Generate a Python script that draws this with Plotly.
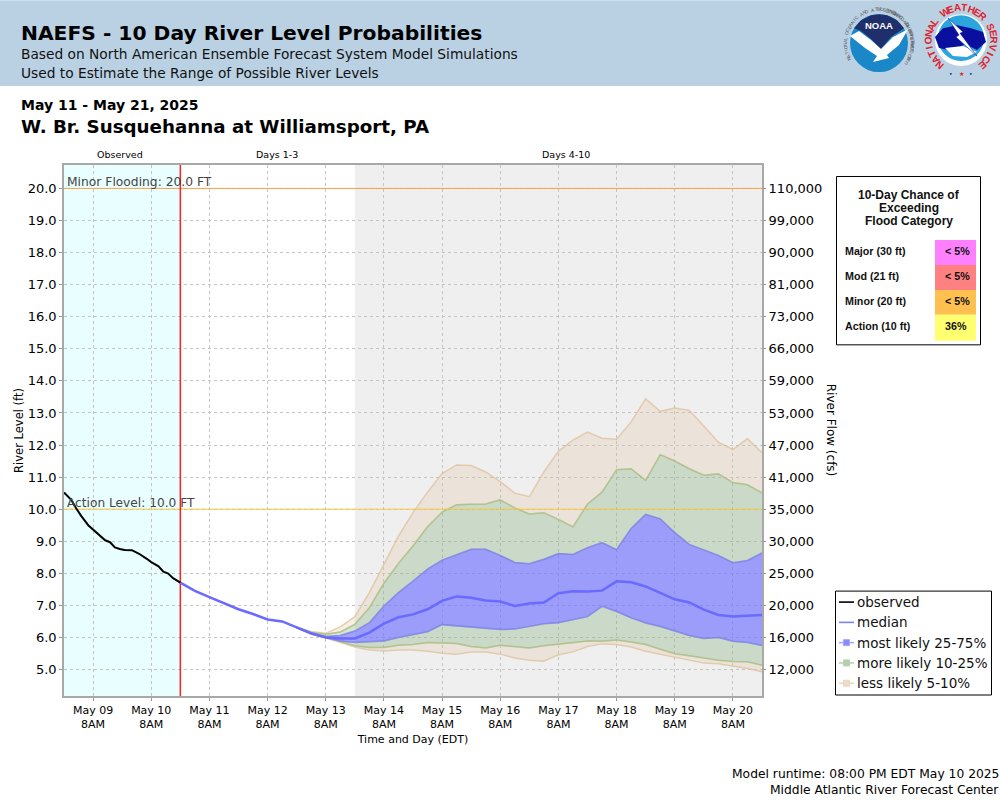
import math
import pandas as pd
import plotly.graph_objects as go

# ---------- data ----------
START = pd.Timestamp("2025-05-08 20:00")
END = pd.Timestamp("2025-05-20 20:00")
FORECAST_START = pd.Timestamp("2025-05-10 20:00")
DAY4_START = pd.Timestamp("2025-05-13 20:00")

obs_hours = [0, 3, 5, 7, 10, 13, 16, 17, 19, 21, 23, 25, 28, 31, 34, 36, 39, 41, 43, 45, 48]
obs_stage = [10.52, 10.29, 10.03, 9.80, 9.50, 9.29, 9.10, 9.03, 8.97, 8.81, 8.76, 8.73, 8.72,
             8.61, 8.46, 8.35, 8.22, 8.05, 7.99, 7.85, 7.71]

median = [7.71, 7.45, 7.26, 7.06, 6.88, 6.73, 6.56, 6.50, 6.31, 6.13, 6.00, 5.97, 5.97, 6.15, 6.43,
          6.63, 6.72, 6.88, 7.14, 7.28, 7.24, 7.15, 7.12, 6.98, 7.06, 7.09, 7.38, 7.44, 7.43, 7.46,
          7.75, 7.72, 7.59, 7.40, 7.19, 7.09, 6.87, 6.70, 6.65, 6.68, 6.70]
# bands begin at forecast step 8
band_first_step = 8
p95 = [6.33, 6.19, 6.13, 6.33, 6.65, 7.40, 8.28, 9.16, 9.89, 10.53, 11.11, 11.38, 11.36, 11.16, 10.86,
       10.50, 10.39, 11.16, 11.81, 12.15, 12.40, 12.21, 12.18, 12.72, 13.44, 13.05, 13.15, 13.08,
       12.59, 12.09, 11.86, 12.20, 11.76]
p90 = [6.32, 6.16, 6.10, 6.17, 6.41, 6.93, 7.69, 8.31, 8.85, 9.45, 9.91, 10.14, 10.15, 10.16, 10.29,
       10.04, 9.85, 9.89, 9.68, 9.45, 10.16, 10.53, 11.23, 11.26, 10.90, 11.70, 11.50, 11.26,
       11.06, 11.10, 10.83, 10.76, 10.51]
p75 = [6.31, 6.14, 6.03, 6.06, 6.20, 6.46, 6.98, 7.40, 7.76, 8.13, 8.41, 8.59, 8.75, 8.75, 8.56,
       8.34, 8.30, 8.44, 8.62, 8.59, 8.80, 8.96, 8.74, 9.40, 9.84, 9.70, 9.27, 8.90,
       8.72, 8.56, 8.33, 8.40, 8.64]
p25 = [6.31, 6.12, 6.00, 5.89, 5.84, 5.86, 5.89, 6.00, 6.10, 6.18, 6.40, 6.36, 6.34, 6.30, 6.25,
       6.26, 6.34, 6.43, 6.46, 6.56, 6.65, 6.97, 6.81, 6.61, 6.45, 6.34, 6.21, 6.06,
       5.97, 6.00, 5.88, 5.84, 5.75]
p10 = [6.30, 6.11, 5.99, 5.86, 5.74, 5.69, 5.69, 5.76, 5.78, 5.84, 5.82, 5.81, 5.72, 5.67, 5.76,
       5.72, 5.67, 5.74, 5.79, 5.82, 5.89, 5.88, 5.92, 5.86, 5.78, 5.63, 5.49, 5.43,
       5.36, 5.29, 5.25, 5.24, 5.13]
p05 = [6.30, 6.10, 5.99, 5.84, 5.70, 5.61, 5.58, 5.61, 5.61, 5.57, 5.51, 5.48, 5.55, 5.55, 5.48,
       5.36, 5.29, 5.26, 5.46, 5.55, 5.72, 5.80, 5.78, 5.70, 5.57, 5.48, 5.38, 5.29,
       5.20, 5.18, 5.11, 5.03, 4.93]

stage_ticks = [5, 6, 7, 8, 9, 10, 11, 12, 13, 14, 15, 16, 17, 18, 19, 20]
flow_labels = ["12,000", "16,000", "20,000", "25,000", "30,000", "35,000", "41,000", "47,000",
               "53,000", "59,000", "66,000", "73,000", "81,000", "90,000", "99,000", "110,000"]
tick_days = ["May 09", "May 10", "May 11", "May 12", "May 13", "May 14", "May 15", "May 16",
             "May 17", "May 18", "May 19", "May 20"]
chance_rows = ["Major (30 ft)", "Mod (21 ft)", "Minor (20 ft)", "Action (10 ft)"]
chance_vals = ["< 5%", "< 5%", "< 5%", "36%"]
legend_names = ["observed", "median", "most likely 25-75%", "more likely 10-25%", "less likely 5-10%"]

# ---------- derived time axes ----------
obs_x = [START + pd.Timedelta(hours=h) for h in obs_hours]
fc_x = [FORECAST_START + pd.Timedelta(hours=6 * i) for i in range(len(median))]
band_x = fc_x[band_first_step:]
tick_x = [pd.Timestamp(f"2025-05-{d[-2:]} 08:00") for d in tick_days]
tick_text = [f"{d}<br>8AM" for d in tick_days]

# ---------- geometry helpers (figure pixels -> paper) ----------
W, H = 1000, 800
L, R, T, B = 64, 762, 165, 696.5
YMIN, YMAX = 4.175, 20.73
def px(x): return (x - L) / (R - L)
def py(y): return 1 - (y - T) / (B - T)

FONT = "DejaVu Sans"
ARIAL = "Liberation Sans"
CLEAR = "rgba(0,0,0,0)"
shapes, notes = [], []

def rect(x0, y0, x1, y1, fill, line=None, lw=1, layer="above"):
    shapes.append(dict(type="rect", xref="paper", yref="paper", x0=px(x0), x1=px(x1), y0=py(y0), y1=py(y1),
                       fillcolor=fill, line=dict(color=line or CLEAR, width=lw if line else 0), layer=layer))

def circle(cx, cy, r, fill, line=None, lw=1):
    shapes.append(dict(type="circle", xref="paper", yref="paper", x0=px(cx - r), x1=px(cx + r), y0=py(cy + r), y1=py(cy - r),
                       fillcolor=fill, line=dict(color=line or CLEAR, width=lw if line else 0), layer="above"))

def poly(points, fill, line=None, lw=1):
    d = "M " + " L ".join(f"{px(a):.5f},{py(b):.5f}" for a, b in points) + " Z"
    shapes.append(dict(type="path", xref="paper", yref="paper", path=d, fillcolor=fill,
                       line=dict(color=line or CLEAR, width=lw if line else 0), layer="above"))

def text(x, y, s, size, color="#000", anchor="left", family=FONT, bold=False, angle=0, vanchor="middle"):
    notes.append(dict(xref="paper", yref="paper", x=px(x), y=py(y), text=f"<b>{s}</b>" if bold else s,
                      showarrow=False, xanchor=anchor, yanchor=vanchor, textangle=angle,
                      font=dict(family=family, size=size, color=color), borderpad=0, borderwidth=0))

# banner
rect(0, 0, 1000, 86, "#BAD1E4", layer="below")
text(21, 33, "NAEFS - 10 Day River Level Probabilities", 20.25, bold=True)
text(21, 54, "Based on North American Ensemble Forecast System Model Simulations", 13.75, color="#111")
text(21, 73, "Used to Estimate the Range of Possible River Levels", 13.75, color="#111")
text(21, 105, "May 11 - May 21, 2025", 14, bold=True)
text(21, 126, "W. Br. Susquehanna at Williamsport, PA", 18.25, bold=True)

# NOAA logo
NX, NY = 879, 43
circle(NX, NY, 29, "#1A87C8")
poly([(NX - 25, NY - 15), (NX - 18, NY - 23), (NX - 8, NY - 28), (NX, NY - 29), (NX + 8, NY - 28), (NX + 18, NY - 23),
      (NX + 25, NY - 15), (NX + 12, NY - 6), (NX + 2, NY + 6), (NX - 8, NY - 4), (NX - 18, NY - 12)], "#1F2F6B")
poly([(NX - 29, NY - 7), (NX - 20, NY - 12), (NX - 8, NY - 3), (NX + 2, NY + 6), (NX + 14, NY - 6), (NX + 29, NY - 14),
      (NX + 20, NY + 2), (NX + 8, NY + 12), (NX + 10, NY + 15), (NX - 6, NY + 19), (NX - 2, NY + 13), (NX - 14, NY + 5)], "#FFFFFF")
text(NX, NY - 18, "NOAA", 9.5, color="#fff", anchor="center", family=ARIAL, bold=True)
ring = "NATIONAL OCEANIC AND ATMOSPHERIC ADMINISTRATION"
for i, ch in enumerate(ring):
    a = -118 + 236 * i / (len(ring) - 1)
    text(NX + 33.5 * math.sin(math.radians(a)), NY - 33.5 * math.cos(math.radians(a)), ch, 4.7,
         color="#555", anchor="center", family=ARIAL, angle=a)
ring2 = "U.S. DEPARTMENT OF COMMERCE"
for i, ch in enumerate(ring2):
    a = 125 - 110 * i / (len(ring2) - 1)
    text(NX + 33.5 * math.sin(math.radians(a)), NY - 33.5 * math.cos(math.radians(a)), ch, 4.7,
         color="#555", anchor="center", family=ARIAL, angle=a - 180)

# NWS logo
WX, WY = 961, 40
circle(WX, WY, 26, "#FFFFFF")
circle(WX, WY - 2, 23, "#2CA4DC")
poly([(WX - 26, WY - 3), (WX - 18, WY - 12), (WX - 4, WY - 15), (WX + 10, WY - 12), (WX + 22, WY - 8), (WX + 25, WY + 2),
      (WX + 16, WY + 10), (WX + 4, WY + 4), (WX - 8, WY + 11), (WX - 22, WY + 8)], "#0A0F9E")
poly([(WX - 16, WY + 8), (WX + 2, WY + 6), (WX + 16, WY + 12), (WX + 6, WY + 17), (WX - 8, WY + 16)], "#FFFFFF")
poly([(WX - 13, WY - 22), (WX + 2, WY - 8), (WX - 1, WY - 7), (WX + 16, WY + 16), (WX - 5, WY - 3), (WX - 2, WY - 5)], "#FFFFFF", "#0A0F9E", 0.5)
ring3 = "NATIONAL WEATHER SERVICE"
for i, ch in enumerate(ring3):
    a = -140 + 280 * i / (len(ring3) - 1)
    text(WX + 32.5 * math.sin(math.radians(a)), WY - 32.5 * math.cos(math.radians(a)), ch, 10,
         color="#E0202A", anchor="center", family=ARIAL, bold=True, angle=a)
for dx, c in [(-10, "#0A0F9E"), (0, "#E0202A"), (10, "#0A0F9E")]:
    text(WX + dx, WY + 33, "★" if c == "#E0202A" else "•", 6, color=c, anchor="center")

# period labels
for x, s in [(120, "Observed"), (276.5, "Days 1-3"), (566, "Days 4-10")]:
    text(x, 154, s, 9.5, anchor="center")

# level labels
text(67, 182, "Minor Flooding: 20.0 FT", 12.3, color="#444")
text(67, 503, "Action Level: 10.0 FT", 12.2, color="#444")

# right axis title
text(831, 431, "River Flow (cfs)", 12, anchor="center", angle=90)

# chance table
rect(836.5, 176.5, 980.5, 345, "#FFFFFF", "#000000", 1)
for i, s in enumerate(["10-Day Chance of", "Exceeding", "Flood Category"]):
    text(909, 195 + 13 * i, s, 12, anchor="center", family=ARIAL, bold=True, color="#111")
cell_cols = ["#FF80FF", "#FF8080", "#FFC050", "#FFFF70"]
for i, (nm, v, c) in enumerate(zip(chance_rows, chance_vals, cell_cols)):
    y0 = 240 + 25 * i
    rect(935, y0, 976, y0 + (26 if i == 3 else 25), c)
    text(845, y0 + 10.7, nm, 10.7, family=ARIAL, bold=True, color="#111")
    text(945, y0 + 10.7, v, 10.7, family=ARIAL, bold=True, color="#111")

# legend
rect(835.5, 591.5, 991.5, 695.5, "#FFFFFF", "#000000", 1)
leg_line = ["#000000", "#8080FF", "#A8A8FF", "#B9D3B0", "#EAD6C0"]
leg_box = [None, None, "#8A8AFB", "#B2CFA8", "#EBDCCB"]
for i, (nm, lc, bc) in enumerate(zip(legend_names, leg_line, leg_box)):
    y = 602.5 + 20.3 * i
    shapes.append(dict(type="line", xref="paper", yref="paper", x0=px(839), x1=px(854), y0=py(y), y1=py(y),
                       line=dict(color=lc, width=1.6), layer="above"))
    if bc:
        rect(843.5, y - 3, 849.5, y + 3, bc, lc, 1)
    text(857, y, nm, 13.5, color="#111")

# footer
text(999, 775, "Model runtime: 08:00 PM EDT May 10 2025", 12.3, anchor="right")
text(999, 791, "Middle Atlantic River Forecast Center", 12.3, anchor="right")

# data-space regions
def vrect(a, b, c):
    shapes.append(dict(type="rect", xref="x", yref="paper", x0=a, x1=b, y0=0, y1=1, fillcolor=c,
                       line=dict(width=0, color=CLEAR), layer="below"))
vrect(START, FORECAST_START, "#E9FFFF")
vrect(DAY4_START, END, "#EFEFEF")

fig = go.Figure()

def band(upper, lower, line, fill):
    fig.add_trace(go.Scatter(x=band_x, y=lower, mode="lines", line=dict(color=line, width=1.5), hoverinfo="skip", showlegend=False))
    fig.add_trace(go.Scatter(x=band_x, y=upper, mode="lines", line=dict(color=line, width=1.5), fill="tonexty", fillcolor=fill,
                             hoverinfo="skip", showlegend=False))

band(p95, p90, "rgba(222,190,150,0.7)", "rgba(222,190,150,0.25)")
band(p10, p05, "rgba(222,190,150,0.7)", "rgba(222,190,150,0.25)")
band(p90, p75, "rgba(150,195,130,0.55)", "rgba(130,175,120,0.33)")
band(p25, p10, "rgba(150,195,130,0.55)", "rgba(130,175,120,0.33)")
band(p75, p25, "rgba(125,125,245,0.7)", "rgba(110,110,255,0.65)")

# reference levels and the forecast start, drawn above the fills
for lvl, col in [(20, "#FFA040"), (10, "#F5C842")]:
    fig.add_trace(go.Scatter(x=[START, END], y=[lvl, lvl], mode="lines", line=dict(color=col, width=1), hoverinfo="skip", showlegend=False))
fig.add_trace(go.Scatter(x=[FORECAST_START, FORECAST_START], y=[YMIN, YMAX], mode="lines", line=dict(color="#FF2020", width=1.5),
                         hoverinfo="skip", showlegend=False))

fig.add_trace(go.Scatter(x=fc_x, y=median, mode="lines", line=dict(color="#6A6AFF", width=2.5), name="median", showlegend=False))
fig.add_trace(go.Scatter(x=obs_x, y=obs_stage, mode="lines", line=dict(color="#000000", width=2), name="observed", showlegend=False))
# carrier for the flow axis
fig.add_trace(go.Scatter(x=fc_x, y=median, yaxis="y2", mode="lines", line=dict(width=0), opacity=0, hoverinfo="skip", showlegend=False))

grid = dict(showgrid=True, gridcolor="#C4C4C4", griddash="3px,3px", gridwidth=1, zeroline=False,
            showline=True, linecolor="#A8A8A8", linewidth=1.5, mirror=True,
            ticks="outside", ticklen=3, tickcolor="#999999", tickwidth=1)

fig.update_layout(
    width=W, height=H, autosize=False, paper_bgcolor="white", plot_bgcolor="white",
    margin=dict(l=L, r=W - R, t=T, b=H - B, pad=0), showlegend=False,
    font=dict(family=FONT, color="#000"),
    xaxis=dict(type="date", range=[START, END], tickmode="array", tickvals=tick_x, ticktext=tick_text,
               tickfont=dict(size=11), title=dict(text="Time and Day (EDT)", font=dict(size=11), standoff=5), **grid),
    yaxis=dict(range=[YMIN, YMAX], tickmode="array", tickvals=stage_ticks, ticktext=[f"{v:.1f}" for v in stage_ticks],
               tickfont=dict(size=13), title=dict(text="River Level (ft)", font=dict(size=11.5), standoff=2), **grid),
    yaxis2=dict(range=[YMIN, YMAX], overlaying="y", side="right", tickmode="array", tickvals=stage_ticks, ticktext=flow_labels,
                tickfont=dict(size=13), showgrid=False, zeroline=False, ticks="outside", ticklen=3, tickcolor="#999999"),
    shapes=shapes, annotations=notes,
)

fig.write_html("out.html", config=dict(displayModeBar=False), post_script="document.body.style.margin='0';")
